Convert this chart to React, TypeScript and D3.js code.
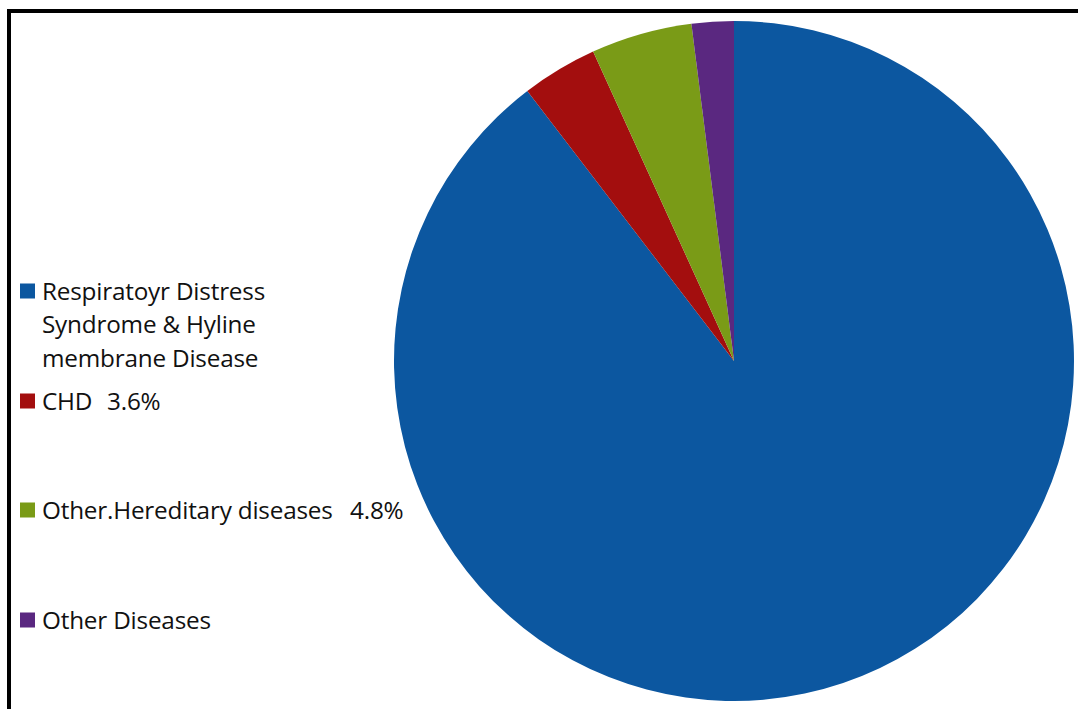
import React from "react";
import * as d3 from "d3";

const categories = [
  ["Respiratoyr Distress", "Syndrome & Hyline", "membrane Disease"],
  ["CHD"],
  ["Other.Hereditary diseases"],
  ["Other Diseases"],
];
const values = [89.6, 3.6, 4.8, 2.0];
const valueLabels = ["", "3.6%", "4.8%", ""];
const colors = ["#0C57A0", "#A30E0E", "#7A9B17", "#5A2880"];

const W = 1078;
const H = 709;
const cx = 734;
const cy = 361;
const R = 340;

export default function App() {
  const pie = d3.pie<number>().sort(null).startAngle(0).endAngle(2 * Math.PI);
  const arcs = pie(values);
  const arc = d3.arc<d3.PieArcDatum<number>>().innerRadius(0).outerRadius(R);

  const legendY = [291, 401, 510, 620];
  const valueX = [0, 107, 350, 0];
  const font = "'Open Sans', sans-serif";
  const fs = 24.3;
  const ls = -0.2;

  return (
    <svg
      width={W}
      height={H}
      style={{ position: "absolute", left: 0, top: 0, background: "#fff" }}
    >
      <g transform={`translate(${cx},${cy})`}>
        {arcs.map((a, i) => (
          <path key={i} d={arc(a) || ""} fill={colors[i]} />
        ))}
      </g>
      {categories.map((lines, i) => (
        <g key={i}>
          <rect x={20} y={legendY[i] - 7.5} width={15} height={15} fill={colors[i]} />
          {lines.map((t, j) => (
            <text
              key={j}
              x={42}
              y={legendY[i] + j * 33.5}
              dy="0.35em"
              fontFamily={font}
              fontSize={fs}
              letterSpacing={ls}
              fill="#111"
            >
              {t}
            </text>
          ))}
          {valueLabels[i] && (
            <text
              x={valueX[i]}
              y={legendY[i]}
              dy="0.35em"
              fontFamily={font}
              fontSize={fs}
              letterSpacing={ls}
              fill="#111"
            >
              {valueLabels[i]}
            </text>
          )}
        </g>
      ))}
      <line x1={7} y1={11} x2={W} y2={11} stroke="#000" strokeWidth={4} />
      <line x1={9} y1={9} x2={9} y2={H} stroke="#000" strokeWidth={4} />
    </svg>
  );
}
